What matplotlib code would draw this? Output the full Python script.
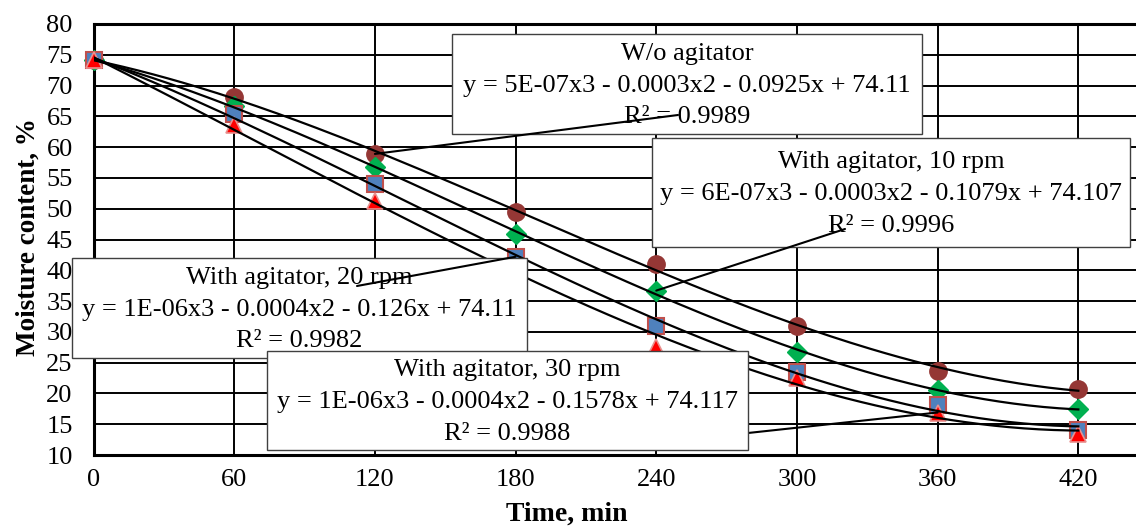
import matplotlib
matplotlib.use("Agg")
import matplotlib.pyplot as plt
from matplotlib.patches import Rectangle
import numpy as np

plt.rcParams['font.family'] = ['Liberation Serif', 'DejaVu Serif']

# data
time_min = [0, 60, 120, 180, 240, 300, 360, 420]
wo_agitator = [74.1, 68.2, 58.9, 49.4, 41.0, 31.0, 23.7, 20.7]
rpm_10 = [74.1, 66.7, 56.7, 45.9, 36.7, 26.8, 20.6, 17.4]
rpm_20 = [74.1, 65.4, 54.0, 42.2, 31.0, 23.5, 18.2, 14.1]
rpm_30 = [74.1, 63.6, 51.3, 39.5, 27.6, 22.5, 16.9, 13.4]

labels = ["W/o agitator\ny = 5E-07x3 - 0.0003x2 - 0.0925x + 74.11\nR\u00b2 = 0.9989",
          "With agitator, 10 rpm\ny = 6E-07x3 - 0.0003x2 - 0.1079x + 74.107\nR\u00b2 = 0.9996",
          "With agitator, 20 rpm\ny = 1E-06x3 - 0.0004x2 - 0.126x + 74.11\nR\u00b2 = 0.9982",
          "With agitator, 30 rpm\ny = 1E-06x3 - 0.0004x2 - 0.1578x + 74.117\nR\u00b2 = 0.9988"]

W, H = 1136, 529
fig = plt.figure(figsize=(W / 100, H / 100), dpi=100)
ax = fig.add_axes([93.5 / W, (H - 455) / H, 1 - 93.5 / W, (455 - 24) / H])

styles = [
    dict(marker='o', color='#953735', mec='#953735', ms=12.5),
    dict(marker='D', color='#00B050', mec='#00B050', ms=10),
    dict(marker='s', color='#4F81BD', mec='#C0504D', ms=11, mew=1.5),
    dict(marker='^', color='#FF0000', mec='#E8908E', ms=11, mew=1.2),
]
series = [wo_agitator, rpm_10, rpm_20, rpm_30]

xs = np.linspace(0, 420, 200)
for ys, st in zip(series, styles):
    ax.plot(time_min, ys, ls='none', zorder=3, clip_on=False, **st)
    coef = np.polyfit(time_min, ys, 3)
    ax.plot(xs, np.polyval(coef, xs), color='black', lw=1.6, zorder=4)

ax.set_xlim(0, 444.6)
ax.set_ylim(10, 80)
ax.set_xticks(time_min)
ax.set_yticks(range(10, 81, 5))
ax.grid(True, color='black', lw=1.4)
ax.set_axisbelow(True)
ax.tick_params(length=0, labelsize=19)
ax.tick_params(axis='y', pad=15)
ax.tick_params(axis='x', pad=10)
for s in ['left', 'bottom', 'top']:
    ax.spines[s].set_linewidth(2.2)
ax.spines['right'].set_visible(False)

ax.set_xlabel('Time, min', fontsize=20, fontweight='bold')
ax.xaxis.label.set_va('center')
ax.xaxis.set_label_coords(0.454, -0.137)
ax.set_ylabel('Moisture content, %', fontsize=19.5, fontweight='bold')
ax.yaxis.label.set_va('center')
ax.yaxis.set_label_coords(-0.063, 0.506)

# label boxes in image pixels (left, top, right, bottom), leader anchor, point index
boxes = [(452, 34, 922, 134), (652, 138, 1130, 247), (72, 258, 527, 358), (267, 351, 748, 450)]
anchors = [(678, 115), (845, 229), (357, 286), (748, 433)]
points = [2, 4, 3, 6]

def fig_xy(px, py):
    return px / W, (H - py) / H

for i, (b, a, p, lab) in enumerate(zip(boxes, anchors, points, labels)):
    x0, y0 = fig_xy(b[0], b[3])
    x1, y1 = fig_xy(b[2], b[1])
    z = 6 + i * 0.1
    ax.add_patch(Rectangle((x0, y0), x1 - x0, y1 - y0, transform=fig.transFigure,
                           facecolor='white', edgecolor='#404040', lw=1.0,
                           clip_on=False, zorder=z))
    ax.text((x0 + x1) / 2, (y0 + y1) / 2 - 0.003, lab, transform=fig.transFigure,
            ha='center', va='center', fontsize=19, linespacing=1.58,
            zorder=z + 0.01, clip_on=False)
    lz = z + 0.05 if i < 3 else z - 0.5
    ax.annotate('', xy=(time_min[p], series[i][p]), xycoords='data',
                xytext=fig_xy(*a), textcoords='figure fraction',
                arrowprops=dict(arrowstyle='-', color='black', lw=1.5,
                                shrinkA=0, shrinkB=0),
                zorder=lz, annotation_clip=False)

fig.savefig('out.png', dpi=100)
